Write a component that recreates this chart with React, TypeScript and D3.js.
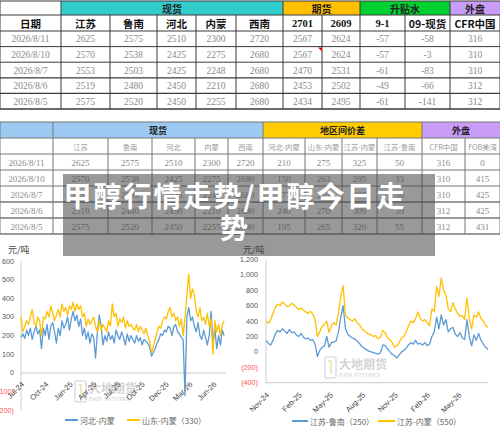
import React from 'react';
import * as d3 from 'd3';

// ---------------- data ----------------
const t1GroupLabels = ['', '现货', '期货', '升贴水', '外盘'];
const t1GroupSpans = [1, 5, 2, 2, 1];
const t1ColLabels = ['日期', '江苏', '鲁南', '河北', '内蒙', '西南', '2701', '2609', '9-1', '09-现货', 'CFR中国'];
const rowDates = ['2026/8/11', '2026/8/10', '2026/8/7', '2026/8/6', '2026/8/5'];
const t1Row1 = [2625, 2575, 2510, 2300, 2720, 2567, 2624, -57, -58, 316];
const t1Row2 = [2570, 2538, 2425, 2275, 2680, 2567, 2624, -57, -3, 310];
const t1Row3 = [2553, 2503, 2425, 2248, 2680, 2470, 2531, -61, -83, 310];
const t1Row4 = [2519, 2480, 2450, 2210, 2680, 2453, 2502, -49, -66, 312];
const t1Row5 = [2575, 2520, 2450, 2255, 2680, 2434, 2495, -61, -141, 312];

const t2GroupLabels = ['', '现货', '地区间价差', '外盘'];
const t2GroupSpans = [1, 5, 4, 2];
const t2ColLabels = ['', '江苏', '鲁南', '河北', '内蒙', '西南', '河北-内蒙', '山东-内蒙', '江苏-内蒙', '江苏-鲁南', 'CFR中国', 'FOB美湾'];
const t2Row1 = [2625, 2575, 2510, 2300, 2720, 210, 275, 325, 50, 316, 0];
const t2Row2 = [2570, 2538, 2425, 2275, 2680, 150, 263, 295, 33, 310, 415];
const t2Row3 = [2553, 2503, 2425, 2248, 2680, 177, 255, 305, 50, 310, 425];
const t2Row4 = [2519, 2480, 2450, 2210, 2680, 240, 270, 309, 39, 312, 425];
const t2Row5 = [2575, 2520, 2450, 2255, 2680, 195, 265, 320, 55, 312, 431];

const titleLines = ['甲醇行情走势/甲醇今日走', '势'];

// left chart: 河北-内蒙 / 山东-内蒙(330)
const leftDates = ['2024-07-01', '2026-08-11'];
const leftHebei = [
  190, 210, 185, 230, 200, 240, 180, 220, 250, 210,
  230, 130, 240, 200, 260, 180, 250, 270, 220, 160,
  240, 200, 280, 240, 260, 300, 230, 290, 330, 280,
  310, 250, 290, 200, 240, 180, 220, 160, 210, 190,
  80, 220, 310, 250, 150, 200, 170, 220, 180, 200,
  160, 230, 200, 180, 220, 190, 150, 210, 170, 200,
  180, 160, 200, 170, 190, 150, 180, 170, 160, 140,
  90, 110, 130, 160, 180, 210, 200, 230, 220, 250,
  240, 200, 250, 260, 220, 210, 190, 180, -120, 300,
  350, 280, 300, 250, 220, 270, 200, 180, 230, 190,
  150, 200, 330, 160, 240, 130, 200, 150, 230, 200,
];
const leftShandong = [
  300, 220, 250, 280, 260, 300, 340, 270, 250, 300,
  280, 200, 300, 290, 330, 300, 360, 320, 280, 310,
  340, 300, 370, 330, 350, 310, 360, 340, 380, 330,
  370, 340, 360, 300, 320, 250, 290, 260, 280, 300,
  250, 220, 280, 230, 260, 240, 220, 280, 250, 370,
  300, 320, 250, 290, 270, 300, 240, 280, 250, 260,
  240, 230, 260, 220, 250, 230, 210, 240, 200, 170,
  110, 140, 180, 220, 250, 240, 280, 300, 290, 330,
  350, 300, 320, 280, 300, 250, 290, 200, 300, 420,
  530, 400, 450, 420, 330, 300, 350, 280, 300, 260,
  320, 250, 290, 100, 280, 220, 260, 200, 260, 280,
];
const leftTickLabels = ['Jul-24', 'Oct-24', 'Jan-25', 'Apr-25', 'Jul-25', 'Oct-25', 'Dec-25', 'Mar-26', 'Jun-26'];
const leftTickDates = ['2024-07-01', '2024-10-01', '2025-01-01', '2025-04-01', '2025-07-01', '2025-10-01', '2025-12-31', '2026-03-31', '2026-06-30'];
const leftYTicks = [-200, -100, 0, 100, 200, 300, 400, 500, 600];
const leftLegend = ['河北-内蒙', '山东-内蒙（330）'];

// right chart: 江苏-鲁南(250) / 江苏-内蒙(550)
const rightDates = ['2024-11-01', '2026-07-25'];
const rightLunan = [
  150, 110, 90, 150, 230, 280, 260, 300, 270, 240,
  290, 250, 260, 220, 200, 240, 190, 170, 180, 150,
  160, 100, -60, 20, 60, 80, 200, 60, 120, 130,
  140, 260, 450, 600, 300, 230, 200, 180, 170, 140,
  110, 70, 50, 30, 10, 0, -10, -20, -30, -10,
  90, 80, 40, 0, -30, -50, -80, -40, 0, 20,
  50, 90, 120, 100, 150, 100, 110, 90, 120, 80,
  100, 200, 260, 450, 300, 480, 350, 420, 260, 300,
  320, 230, 200, 250, 180, 160, 420, 200, 80, 220,
  150, 240, 150, 100, 60, 30,
];
const rightNeimeng = [
  400, 370, 420, 500, 580, 620, 600, 650, 620, 590,
  600, 630, 610, 580, 550, 570, 540, 520, 500, 530,
  490, 420, 200, 260, 330, 360, 400, 250, 340, 380,
  350, 500, 720, 860, 480, 440, 420, 400, 430, 380,
  350, 300, 280, 250, 230, 220, 200, 210, 170, 190,
  280, 250, 180, 160, 120, 60, 80, 120, 180, 200,
  260, 340, 400, 380, 430, 520, 440, 400, 420, 380,
  340, 560, 520, 850, 720, 960, 800, 740, 560, 520,
  640, 560, 500, 460, 470, 420, 700, 440, 300, 480,
  450, 520, 430, 400, 340, 320,
];
const rightTickLabels = ['Nov-24', 'Feb-25', 'May-25', 'Aug-25', 'Nov-25', 'Feb-26', 'May-26'];
const rightTickDates = ['2024-11-01', '2025-02-01', '2025-05-01', '2025-08-01', '2025-11-01', '2026-02-01', '2026-05-01'];
const rightYTicks = [-400, -200, 0, 200, 400, 600, 800, 1000, 1200];
const rightLegend = ['江苏-鲁南（250）', '江苏-内蒙（550）'];

// ---------------- styles ----------------
const BLUE = '#5b9bd5';
const GOLD = '#ffc000';
const CJK = '"Noto Sans CJK SC", sans-serif';
const SERIF = '"Liberation Serif", "DejaVu Serif", serif';
const SANS = '"Liberation Sans", Arial, sans-serif';
const t1ColX = [0, 61, 110, 157, 196, 236, 283, 322, 360, 405, 450, 500];
const t1Fill = ['#ffffff', '#33cccc', '#ffc000', '#00d030', '#c89cf7'];
const t2ColX = [0, 53, 108, 152, 195, 228, 263, 305, 342, 377, 422, 465, 500];
const t2Fill = ['#9dcaf2', '#9dcaf2', '#ffcc00', '#c89cf7'];

const parse = d3.timeParse('%Y-%m-%d');

function Table(p: any) {
  const els: any[] = [];
  const y1 = p.top, y2 = p.top + p.h1, y3 = y2 + p.h2;
  const yEnd = y3 + p.rows.length * p.rowH;
  let ci = 0;
  p.groupSpans.forEach((span: number, gi: number) => {
    const x0 = p.colX[ci], x1 = p.colX[ci + span];
    els.push(<rect key={'g' + gi} x={x0} y={y1} width={x1 - x0} height={p.h1} fill={p.groupFill[gi]} />);
    if (p.groupLabels[gi]) {
      els.push(
        <text key={'gt' + gi} x={(x0 + x1) / 2} y={y1 + p.h1 / 2 + 0.5} textAnchor="middle" dominantBaseline="central"
          fontFamily={CJK} fontWeight={700} fontSize={p.gFont} fill="#222">{p.groupLabels[gi]}</text>
      );
    }
    els.push(<line key={'gl' + gi} x1={x0} x2={x0} y1={y1} y2={y2} stroke={p.line} strokeWidth={1} />);
    ci += span;
  });
  p.colLabels.forEach((lab: string, i: number) => {
    if (!lab) return;
    const xc = (p.colX[i] + p.colX[i + 1]) / 2;
    const isNum = !/[\u4e00-\u9fff]/.test(lab);
    els.push(
      <text key={'c' + i} x={xc} y={y2 + p.h2 / 2 + 0.5} textAnchor="middle" dominantBaseline="central"
        fontFamily={isNum ? SERIF : CJK} fontWeight={p.cBold ? 700 : 400} fontSize={p.cFont} fill={p.cColor}>{lab}</text>
    );
  });
  p.rows.forEach((row: number[], r: number) => {
    const yc = y3 + r * p.rowH + p.rowH / 2 + 0.5;
    els.push(
      <text key={'d' + r} x={(p.colX[0] + p.colX[1]) / 2} y={yc} textAnchor="middle" dominantBaseline="central"
        fontFamily={SERIF} fontSize={p.dFont} fill={p.dColor}>{p.dates[r]}</text>
    );
    row.forEach((v: number, j: number) => {
      els.push(
        <text key={'v' + r + '-' + j} x={(p.colX[j + 1] + p.colX[j + 2]) / 2} y={yc} textAnchor="middle" dominantBaseline="central"
          fontFamily={SERIF} fontSize={p.dFont} fill={p.dColor}>{String(v)}</text>
      );
    });
  });
  const hs = [y1, y2, y3];
  p.rows.forEach((_: any, r: number) => hs.push(y3 + (r + 1) * p.rowH));
  hs.forEach((y, i) => els.push(<line key={'h' + i} x1={0} x2={500} y1={y} y2={y} stroke={p.line} strokeWidth={i >= 5 ? 1.3 : 1} />));
  p.colX.forEach((x: number, i: number) => els.push(<line key={'vl' + i} x1={x} x2={x} y1={y2} y2={yEnd} stroke={p.line} strokeWidth={1} />));
  return <g>{els}</g>;
}

function Watermark({ x, y }: { x: number; y: number }) {
  return (
    <g opacity={0.55}>
      <rect x={x} y={y} width={11} height={21} rx={2} fill="none" stroke="#b8c4d8" strokeWidth={1.5} />
      <path d={`M${x + 3},${y + 4} L${x + 6},${y + 4} L${x + 6},${y + 17}`} fill="none" stroke="#e6c27a" strokeWidth={1.5} />
      <text x={x + 14} y={y + 12} fontFamily={CJK} fontWeight={700} fontSize={12} fill="#b0b0b0">大地期货</text>
      <text x={x + 14} y={y + 20} fontFamily={SANS} fontWeight={700} fontSize={4.6} fill="#b8b8b8" letterSpacing={0.6}>DADI FUTURES</text>
    </g>
  );
}

function LeftChart() {
  const x = d3.scaleTime().domain([parse('2024-07-01')!, parse('2026-08-18')!]).range([21, 226]);
  const y = d3.scaleLinear().domain([-200, 600]).range([410.3, 261]);
  const t0 = parse(leftDates[0])!.getTime(), t1 = parse(leftDates[1])!.getTime();
  const n = leftHebei.length;
  const dateAt = (i: number) => new Date(t0 + (i / (n - 1)) * (t1 - t0));
  const line = d3.line<number>().x((_, i) => x(dateAt(i))).y(d => y(d));
  return (
    <g>
      <text x={8} y={253} fontFamily={CJK} fontSize={9} fill="#444">元/吨</text>
      {leftYTicks.map(v => (
        <text key={v} x={14} y={y(v)} textAnchor="end" dominantBaseline="central" fontFamily={SANS} fontSize={7.2}
          fill={v < 0 ? '#ff5050' : '#555'}>{v < 0 ? `(${-v})` : String(v)}</text>
      ))}
      <line x1={21} x2={21} y1={y(600)} y2={y(-200)} stroke="#d0d0d0" />
      <line x1={21} x2={226} y1={y(0)} y2={y(0)} stroke="#c8c8c8" />
      <Watermark x={75} y={381} />
      {leftTickLabels.map((lab, i) => {
        const xx = x(parse(leftTickDates[i])!);
        return (
          <text key={lab} transform={`translate(${xx + 2},${y(0) + 10}) rotate(-45)`} textAnchor="end" dominantBaseline="central"
            fontFamily={SANS} fontSize={7.5} fill="#444">{lab}</text>
        );
      })}
      <path d={line(leftHebei)!} fill="none" stroke={BLUE} strokeWidth={1.3} strokeLinejoin="round" />
      <path d={line(leftShandong)!} fill="none" stroke={GOLD} strokeWidth={1.3} strokeLinejoin="round" />
      <line x1={65} x2={78} y1={420} y2={420} stroke={BLUE} strokeWidth={2} />
      <text x={80} y={420} dominantBaseline="central" fontFamily={CJK} fontSize={8} fill="#666">{leftLegend[0]}</text>
      <line x1={127} x2={140} y1={420} y2={420} stroke={GOLD} strokeWidth={2} />
      <text x={142} y={420} dominantBaseline="central" fontFamily={CJK} fontSize={8} fill="#666">{leftLegend[1]}</text>
    </g>
  );
}

function RightChart() {
  const x = d3.scaleTime().domain([parse('2024-11-01')!, parse('2026-07-25')!]).range([266, 488]);
  const y = d3.scaleLinear().domain([-400, 1200]).range([382.7, 259.5]);
  const t0 = parse(rightDates[0])!.getTime(), t1 = parse(rightDates[1])!.getTime();
  const n = rightLunan.length;
  const dateAt = (i: number) => new Date(t0 + (i / (n - 1)) * (t1 - t0));
  const line = d3.line<number>().x((_, i) => x(dateAt(i))).y(d => y(d));
  const fmt = d3.format(',');
  return (
    <g>
      <text x={243} y={253} fontFamily={CJK} fontSize={9} fill="#444">元/吨</text>
      {rightYTicks.map(v => (
        <text key={v} x={258} y={y(v)} textAnchor="end" dominantBaseline="central" fontFamily={SANS} fontSize={7.2}
          fill={v < 0 ? '#ff5050' : '#555'}>{v < 0 ? `(${-v})` : fmt(v)}</text>
      ))}
      <line x1={266} x2={266} y1={y(1200)} y2={y(-400)} stroke="#d0d0d0" />
      <line x1={266} x2={488} y1={y(-400)} y2={y(-400)} stroke="#c8c8c8" />
      <Watermark x={325} y={357} />
      {rightTickLabels.map((lab, i) => {
        const xx = x(parse(rightTickDates[i])!);
        return (
          <text key={lab} transform={`translate(${xx + 2},${y(-400) + 11}) rotate(-45)`} textAnchor="end" dominantBaseline="central"
            fontFamily={SANS} fontSize={7.5} fill="#444">{lab}</text>
        );
      })}
      <path d={line(rightLunan)!} fill="none" stroke={BLUE} strokeWidth={1.3} strokeLinejoin="round" />
      <path d={line(rightNeimeng)!} fill="none" stroke={GOLD} strokeWidth={1.3} strokeLinejoin="round" />
      <line x1={292} x2={308} y1={421} y2={421} stroke={BLUE} strokeWidth={2} />
      <text x={310} y={421} dominantBaseline="central" fontFamily={CJK} fontSize={8} fill="#666">{rightLegend[0]}</text>
      <line x1={378} x2={395} y1={421} y2={421} stroke={GOLD} strokeWidth={2} />
      <text x={397} y={421} dominantBaseline="central" fontFamily={CJK} fontSize={8} fill="#666">{rightLegend[1]}</text>
    </g>
  );
}

export default function App() {
  return (
    <svg width={500} height={432} style={{ position: 'absolute', left: 0, top: 0, background: '#fff' }}>
      <rect x={0} y={0} width={500} height={432} fill="#fff" />
      <Table top={1} colX={t1ColX} h1={14} h2={16} rowH={15.6}
        groupLabels={t1GroupLabels} groupSpans={t1GroupSpans} groupFill={t1Fill}
        colLabels={t1ColLabels} dates={rowDates} rows={[t1Row1, t1Row2, t1Row3, t1Row4, t1Row5]}
        line="#3a3a3a" gFont={10} cFont={10.5} cBold={true} cColor="#111" dFont={9.5} dColor="#8a8a8a" />
      <polygon points="318,47.5 322,47.5 322,51.5" fill="#e00000" />
      <Table top={122} colX={t2ColX} h1={16} h2={16} rowH={16}
        groupLabels={t2GroupLabels} groupSpans={t2GroupSpans} groupFill={t2Fill}
        colLabels={t2ColLabels} dates={rowDates} rows={[t2Row1, t2Row2, t2Row3, t2Row4, t2Row5]}
        line="#777" gFont={9} cFont={7.3} cBold={false} cColor="#999" dFont={9} dColor="#8a8a8a" />
      <LeftChart />
      <RightChart />
      <rect x={63} y={174} width={372} height={82} fill="rgba(70,70,70,0.55)" />
      {titleLines.map((t, i) => (
        <text key={i} x={235} y={207 + i * 32} textAnchor="middle" fontFamily={CJK} fontWeight={700} fontSize={28}
          letterSpacing={2} fill="#ffffff">{t}</text>
      ))}
    </svg>
  );
}
